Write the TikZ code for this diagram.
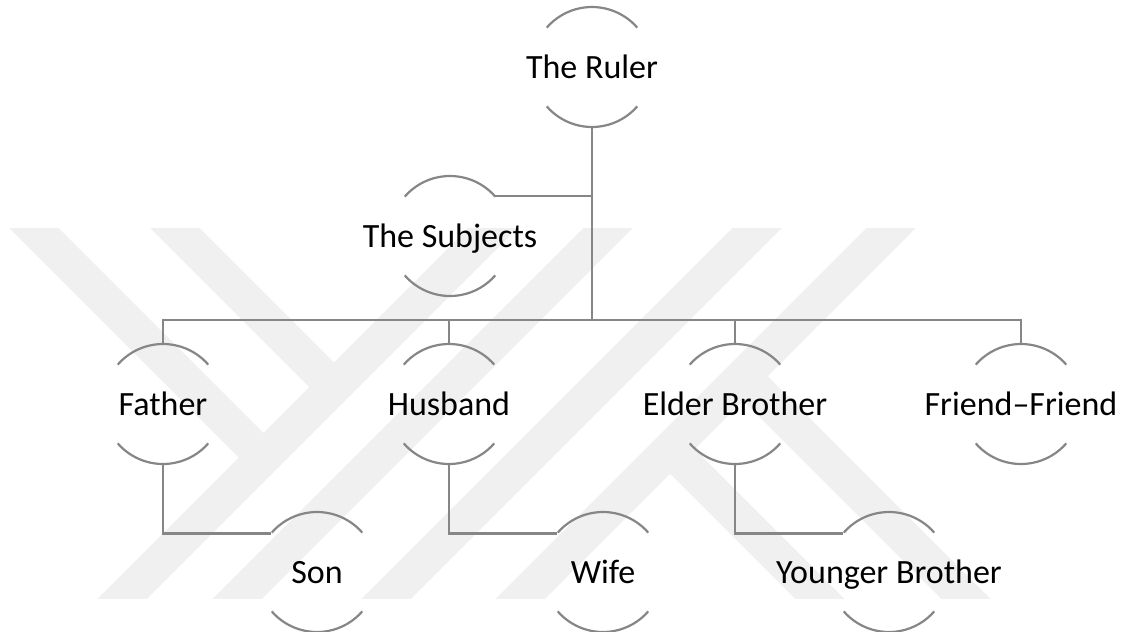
\documentclass[tikz,border=0pt]{standalone}
\usepackage{fontspec}
\setmainfont{Carlito}
\newcommand*{\rolefont}{\fontsize{17}{20}\selectfont}
\newcommand*{\rolename}[1]{\makebox[0pt]{#1}}
\definecolor{linegrey}{RGB}{134,134,134}
\definecolor{markgrey}{RGB}{240,240,240}
\usepackage{tikz}
\tikzstyle{base}=[x=0.5pt, y=0.5pt, line width=1.1pt, linegrey]
\tikzstyle{role}=[circle, minimum size=60pt, inner sep=0pt, outer sep=0pt, text=black, text height=11pt, text depth=0pt, font=\rolefont]
\tikzstyle{band}=[markgrey, line width=17.5pt]

\begin{document}
\begin{tikzpicture}[base]
    \useasboundingbox (0,0) rectangle (1126,-632);
    \begin{scope}
        \clip (0,-228) rectangle (1126,-598);
        \draw [band] (6,-200) -- (264,-458);
        \draw [band] (147,-200) -- (334,-387);
        \draw [band] (521,-200) -- (101,-620);
        \draw [band] (636,-200) -- (216,-620);
        \draw [band] (785,-200) -- (365,-620);
        \draw [band] (919,-200) -- (499,-620);
        \draw [band] (670,-449) -- (860,-639);
        \draw [band] (743,-376) -- (1006,-639);
    \end{scope}
    \node [role] (ruler) at (592,-67) {\rolename{The Ruler}};
    \node [role] (subj) at (450,-236) {\rolename{The Subjects}};
    \node [role] (father) at (163,-404) {\rolename{Father}};
    \node [role] (husband) at (449,-404) {\rolename{Husband}};
    \node [role] (elder) at (735,-404) {\rolename{Elder Brother}};
    \node [role] (friend) at (1021,-404) {\rolename{Friend–Friend}};
    \node [role] (son) at (317,-572) {\rolename{Son}};
    \node [role] (wife) at (603,-572) {\rolename{Wife}};
    \node [role] (younger) at (889,-572) {\rolename{Younger Brother}};
    \foreach \n in {ruler,subj,father,husband,elder,friend,son,wife,younger} {
        \draw (\n.41) arc [start angle=41, end angle=139, radius=30pt];
        \draw (\n.221) arc [start angle=221, end angle=319, radius=30pt];
    }
    \coordinate (bus) at (592,-320);
    \draw (ruler.south) -- (ruler.south |- bus);
    \draw (subj.42) -- (subj.42 -| ruler.south);
    \draw (father.north) |- (bus) -| (friend.north);
    \foreach \n in {husband,elder} \draw (\n.north) -- (\n.north |- bus);
    \draw (father.south) |- (son.140);
    \draw (husband.south) |- (wife.140);
    \draw (elder.south) |- (younger.140);
\end{tikzpicture}
\end{document}
